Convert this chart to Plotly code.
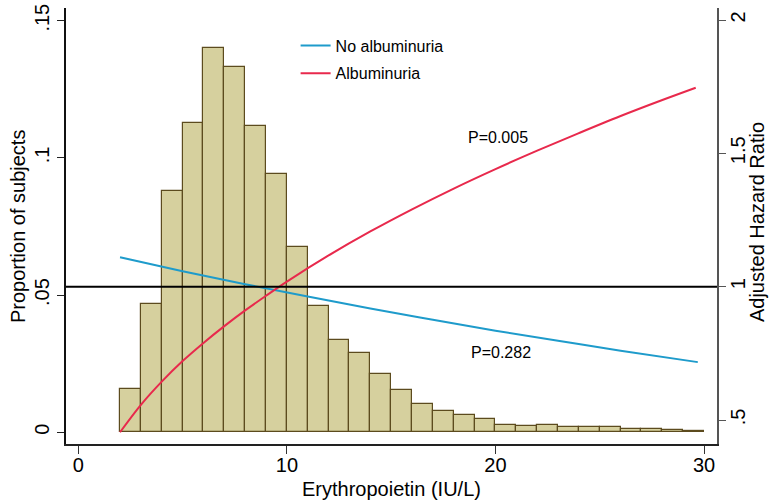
import plotly.graph_objects as go

# ---- data ----
bin_start = [2, 3, 4, 5, 6, 7, 8, 9, 10, 11, 12, 13, 14, 15,
             16, 17, 18, 19, 20, 21, 22, 23, 24, 25, 26, 27, 28, 29]
proportion = [0.0157, 0.0467, 0.0879, 0.1129, 0.1400, 0.1331, 0.1117, 0.0940,
              0.0676, 0.0460, 0.0336, 0.0289, 0.0212, 0.0154, 0.0102, 0.0078,
              0.0063, 0.0047, 0.0027, 0.0024, 0.0025, 0.0019, 0.0019, 0.0018,
              0.0011, 0.0011, 0.0008, 0.0006]

no_alb_x = [2, 5, 8, 11, 14, 17, 20, 23, 26, 29.7]
no_alb_hr = [1.110, 1.058, 1.009, 0.963, 0.918, 0.876, 0.835, 0.797, 0.760, 0.717]

alb_x = [2, 3, 4, 5, 6, 7, 8, 9, 10, 12, 14, 16, 18, 20, 22, 24, 26, 28, 29.6]
alb_hr = [0.454, 0.557, 0.644, 0.721, 0.789, 0.852, 0.911, 0.966, 1.019, 1.117,
          1.207, 1.290, 1.368, 1.441, 1.510, 1.576, 1.640, 1.700, 1.746]

ref_hr = 1.0
x_range = [-0.59, 30.62]
y_range = [-0.00426, 0.15463]
y2_range = [0.41, 2.045]

x_ticks = [0, 10, 20, 30]
y_ticks = [0, 0.05, 0.10, 0.15]
y_ticktext = ["0", ".05", ".1", ".15"]
y2_ticks = [0.5, 1, 1.5, 2]
y2_ticktext = [".5", "1", "1.5", "2"]

x_title = "Erythropoietin (IU/L)"
y_title = "Proportion of subjects"
y2_title = "Adjusted Hazard Ratio"

FONT = "Liberation Sans"

fig = go.Figure()

fig.add_trace(go.Bar(
    x=bin_start, y=proportion, width=1, offset=0,
    marker=dict(color="#D6D09E", line=dict(color="#5C4B1E", width=1.2)),
    showlegend=False, hoverinfo="x+y", yaxis="y"))

fig.add_trace(go.Scatter(
    x=no_alb_x, y=no_alb_hr, mode="lines", name="No albuminuria",
    line=dict(color="#1E9BCB", width=2, shape="spline"), yaxis="y2",
    legendgroup="a"))

fig.add_trace(go.Scatter(
    x=alb_x, y=alb_hr, mode="lines", name="Albuminuria",
    line=dict(color="#E8294C", width=2, shape="spline"), yaxis="y2",
    legendgroup="b"))

# reference line HR = 1, drawn on the label-carrying companion axes
fig.add_trace(go.Scatter(
    x=x_range, y=[ref_hr, ref_hr], mode="lines",
    line=dict(color="black", width=2), showlegend=False,
    xaxis="x2", yaxis="y3", hoverinfo="skip"))

fig.add_annotation(x=20.12, y=1.561, xref="x", yref="y2", text="P=0.005",
                   showarrow=False, font=dict(size=16, color="black", family=FONT))
fig.add_annotation(x=20.27, y=0.754, xref="x", yref="y2", text="P=0.282",
                   showarrow=False, font=dict(size=16, color="black", family=FONT))

# axis titles
fig.add_annotation(x=0.5, y=-0.1032, xref="paper", yref="paper", text=x_title,
                   xanchor="center", yanchor="middle", showarrow=False,
                   font=dict(size=20, color="black", family=FONT))
fig.add_annotation(x=-0.0737, y=0.4977, xref="paper", yref="paper", text=y_title,
                   xanchor="center", yanchor="middle", textangle=-90,
                   showarrow=False, font=dict(size=20, color="black", family=FONT))
fig.add_annotation(x=1.0614, y=0.509, xref="paper", yref="paper", text=y2_title,
                   xanchor="center", yanchor="middle", textangle=-90,
                   showarrow=False, font=dict(size=20, color="black", family=FONT))

fig.update_layout(
    width=770, height=502,
    margin=dict(l=66, r=53, t=8, b=58),
    paper_bgcolor="white", plot_bgcolor="white",
    font=dict(family=FONT, color="black", size=20),
    bargap=0,
    xaxis=dict(range=x_range, tickvals=x_ticks, ticks="outside", ticklen=8,
               tickcolor="#333", linecolor="#222", linewidth=1.5, showline=True,
               showgrid=False, zeroline=False, automargin=False,
               showticklabels=False),
    xaxis2=dict(range=x_range, tickvals=x_ticks, overlaying="x", anchor="y",
                side="bottom", ticks="outside", ticklen=3,
                tickcolor="rgba(0,0,0,0)", showline=False, showgrid=False,
                zeroline=False, automargin=False, tickfont=dict(size=20)),
    yaxis=dict(range=y_range, tickvals=y_ticks, ticktext=y_ticktext,
               ticks="outside", ticklen=7, tickcolor="#222", linecolor="#111",
               linewidth=1.5, showline=True, showgrid=False, zeroline=False,
               tickangle=-90, tickfont=dict(size=20), automargin=False),
    yaxis2=dict(range=y2_range, tickvals=y2_ticks, ticktext=y2_ticktext,
                overlaying="y", side="right", ticks="outside", ticklen=7,
                tickcolor="#555", linecolor="#555", linewidth=1.5, showline=True,
                showgrid=False, zeroline=False, automargin=False,
                showticklabels=False),
    yaxis3=dict(range=y2_range, tickvals=y2_ticks, ticktext=y2_ticktext,
                overlaying="y", side="right", anchor="x", ticks="outside",
                ticklen=3, tickcolor="rgba(0,0,0,0)", showline=False,
                showgrid=False, zeroline=False, tickangle=-90,
                tickfont=dict(size=20), automargin=False),
    legend=dict(x=0.3527, y=0.953, xanchor="left", yanchor="top",
                bgcolor="rgba(0,0,0,0)", font=dict(size=16, family=FONT),
                tracegroupgap=4),
)

fig.write_html("out.html")
